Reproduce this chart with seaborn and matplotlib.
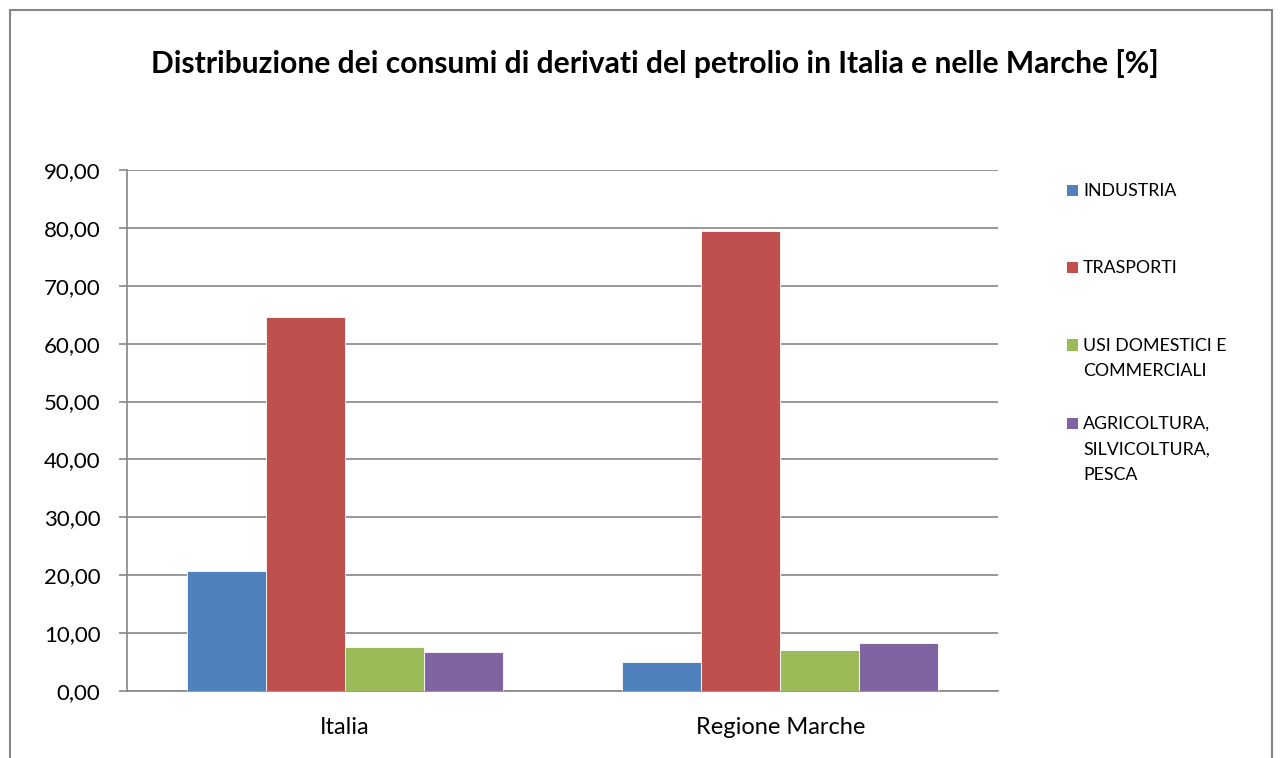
import matplotlib
matplotlib.use("Agg")
import matplotlib.pyplot as plt
import seaborn as sns
import pandas as pd
from matplotlib.patches import Rectangle
from matplotlib.ticker import FuncFormatter, MultipleLocator

regions = ["Italia", "Regione Marche"]
sectors = ["INDUSTRIA", "TRASPORTI", "USI DOMESTICI E\nCOMMERCIALI",
           "AGRICOLTURA,\nSILVICOLTURA,\nPESCA"]
industria = [20.7, 5.0]
trasporti = [64.6, 79.5]
usi_domestici = [7.6, 7.0]
agricoltura = [6.7, 8.3]
colors = ["#4F81BD", "#C0504D", "#9BBB59", "#8064A2"]
title = "Distribuzione dei consumi di derivati del petrolio in Italia e nelle Marche [%]"

rows = []
for s, vals in zip(sectors, [industria, trasporti, usi_domestici, agricoltura]):
    for r, v in zip(regions, vals):
        rows.append({"region": r, "sector": s, "value": v})
df = pd.DataFrame(rows)

sns.set_theme(style="white")
plt.rcParams["font.family"] = ["Lato", "DejaVu Sans"]

W, H = 1282, 758
fig = plt.figure(figsize=(W / 100, H / 100), dpi=100)
ax = fig.add_axes([127 / W, (H - 691) / H, 871 / W, 521 / H])

sns.barplot(data=df, x="region", y="value", hue="sector", hue_order=sectors,
            order=regions, palette=colors, width=0.725, ax=ax,
            edgecolor="white", linewidth=0.6, legend=False, errorbar=None,
            saturation=1, zorder=3)

ax.set_xlim(-0.5, 1.5)
ax.set_ylim(0, 90)
ax.yaxis.set_major_locator(MultipleLocator(10))
ax.yaxis.set_major_formatter(FuncFormatter(lambda v, p: f"{v:.2f}".replace(".", ",")))
ax.grid(axis="y", color="#868686", linewidth=1.2, zorder=0)
ax.set_axisbelow(True)
ax.set_xlabel("")
ax.set_ylabel("")
for s in ["top", "right"]:
    ax.spines[s].set_visible(False)
for s in ["left", "bottom"]:
    ax.spines[s].set_color("#868686")
    ax.spines[s].set_linewidth(1.2)
ax.set_xticks([0, 1])
ax.set_xticklabels(regions)
ax.set_xticks([-0.5, 0.5, 1.5], minor=True)
ax.tick_params(axis="x", which="major", length=0, pad=19, labelsize=17, colors="#000000")
ax.tick_params(axis="x", which="minor", length=6, width=1.2, color="#868686", direction="out")
ax.tick_params(axis="y", length=6, width=1.2, color="#868686", direction="out",
               labelsize=16, pad=13, left=True, labelcolor="#000000")

fig.text(655 / W, 1 - 73 / H, title, ha="center", va="baseline",
         fontsize=21.6, fontweight="bold", color="#000000")

# outer chart frame
fig.add_artist(Rectangle((10 / W, -0.05), (1272 - 10) / W, 1.05 - 10 / H,
                         transform=fig.transFigure, fill=False,
                         edgecolor="#868686", linewidth=1.5, clip_on=False))

# legend (first-line baselines; following lines 25 px apart)
leg_base = [196, 273, 351, 429]
for col, lab, yb in zip(colors, sectors, leg_base):
    fig.add_artist(Rectangle((1067 / W, 1 - yb / H), 11 / W, 11.5 / H,
                             transform=fig.transFigure, facecolor=col, edgecolor="none"))
    for i, line in enumerate(lab.split("\n")):
        fig.text(1083 / W, 1 - (yb + 25.5 * i) / H, line, ha="left", va="baseline",
                 fontsize=12.8, color="#000000")

fig.savefig("out.png", dpi=100)
